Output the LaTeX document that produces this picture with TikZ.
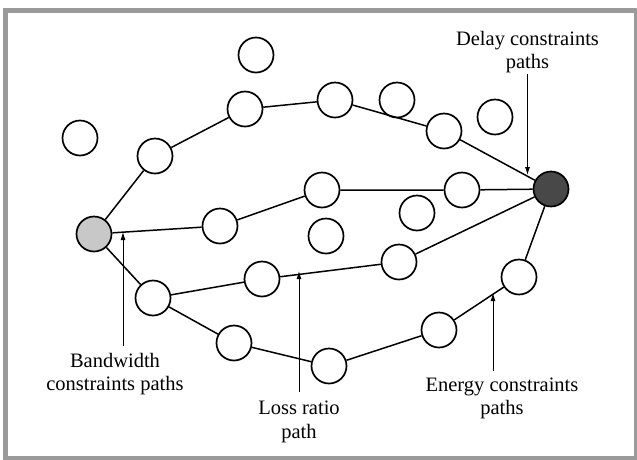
\documentclass[tikz,border=0pt]{standalone}
\usepackage{fontspec}
\setmainfont{Liberation Serif}
\usetikzlibrary{arrows.meta}
\definecolor{srcgray}{HTML}{C8C8C8}
\definecolor{dstgray}{HTML}{484848}
\definecolor{framegray}{HTML}{9A9A9A}
\begin{document}
\begin{tikzpicture}[x=1pt,y=-1pt,
  nd/.style={circle,draw=black,fill=white,line width=1.7pt,minimum size=35pt,inner sep=0pt},
  edge/.style={line width=1.5pt},
  pointer/.style={line width=0.9pt,-{Latex[length=8pt,width=5pt]}},
  lbl/.style={align=center,font=\fontsize{20.5}{23.5}\selectfont,inner sep=0pt,anchor=base}]
\useasboundingbox (0,0) rectangle (637,459);
\fill[white] (0,0) rectangle (637,459);
\draw[framegray,line width=5pt] (5.5,10.5) rectangle (636.5,458.5);
% nodes
\node[nd] (iso1) at (256,55) {};
\node[nd] (iso2) at (80,138) {};
\node[nd] (a1) at (155,156) {};
\node[nd] (a2) at (245,109) {};
\node[nd] (a3) at (335,100) {};
\node[nd] (iso3) at (397,100) {};
\node[nd] (a4) at (444,131) {};
\node[nd] (iso4) at (495,117) {};
\node[nd,fill=dstgray] (dst) at (551,189) {};
\node[nd] (b3) at (462,190) {};
\node[nd] (b2) at (322,190) {};
\node[nd,fill=srcgray] (src) at (94,234) {};
\node[nd] (b1) at (220,226) {};
\node[nd] (iso5) at (326,236) {};
\node[nd] (iso6) at (417,213) {};
\node[nd] (c3) at (399,262) {};
\node[nd] (c2) at (262,279) {};
\node[nd] (c1) at (153,298) {};
\node[nd] (d1) at (234,343) {};
\node[nd] (d2) at (329,366) {};
\node[nd] (d3) at (439,330) {};
\node[nd] (d4) at (519,277) {};
% edges
\draw[edge] (src) -- (a1) -- (a2) -- (a3) -- (a4) -- (dst);
\draw[edge] (src) -- (b1) -- (b2) -- (b3) -- (dst);
\draw[edge] (src) -- (c1) -- (c2) -- (c3) -- (dst);
\draw[edge] (c1) -- (d1) -- (d2) -- (d3) -- (d4) -- (dst);
% labels (base = baseline of last line)
\node[lbl] (ldelay) at (527.5,68.5) {Delay constraints\\paths};
\node[lbl] (lband) at (115,390.5) {Bandwidth\\constraints paths};
\node[lbl] (lloss) at (299,438) {Loss ratio\\path};
\node[lbl] (lenergy) at (502,414.5) {Energy constraints\\paths};
% pointer coordinates
\coordinate (pd0) at (527.5,74);
\coordinate (pd1) at (527.5,175);
\coordinate (pb0) at (123,346);
\coordinate (pb1) at (123,232);
\coordinate (pl0) at (299,392);
\coordinate (pl1) at (299,271);
\coordinate (pe0) at (493,371);
\coordinate (pe1) at (493,293);
\draw[pointer] (pd0) -- (pd1);
\draw[pointer] (pb0) -- (pb1);
\draw[pointer] (pl0) -- (pl1);
\draw[pointer] (pe0) -- (pe1);
\end{tikzpicture}
\end{document}
